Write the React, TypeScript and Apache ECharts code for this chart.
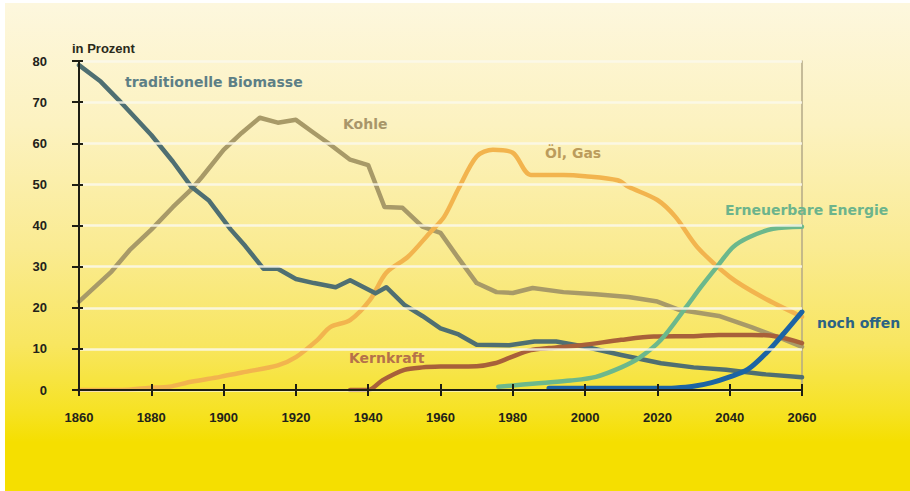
import React, { useEffect, useRef } from "react";
import * as echarts from "echarts";

const xTicks = [1860, 1880, 1900, 1920, 1940, 1960, 1980, 2000, 2020, 2040, 2060];
const yTicks = [0, 10, 20, 30, 40, 50, 60, 70, 80];

const biomasseYears = [1860, 1866, 1871, 1880, 1886, 1891, 1896, 1902, 1906, 1911, 1915, 1920, 1925, 1931, 1935, 1942, 1945, 1950, 1955, 1960, 1965, 1970, 1979, 1986, 1992, 2000, 2010, 2021, 2030, 2039, 2050, 2060];
const biomasseValues = [79, 75, 70.5, 62, 55.5, 49.5, 46, 39, 35, 29.5, 29.5, 27, 26, 25, 26.7, 23.5, 25, 20.7, 18, 15, 13.5, 11, 10.9, 11.8, 11.8, 10.5, 8.5, 6.5, 5.5, 4.9, 3.8, 3.1];

const kohleYears = [1860, 1869, 1874, 1880, 1886, 1891, 1894, 1900, 1905, 1910, 1915, 1920, 1925, 1929, 1935, 1940, 1944.5, 1949.5, 1955, 1960, 1965, 1970, 1975.5, 1980, 1985.5, 1994, 2003, 2012, 2020, 2026, 2037, 2046, 2053, 2060];
const kohleValues = [21.5, 28.8, 34, 39, 44.5, 48.7, 51.8, 58.4, 62.5, 66.2, 65, 65.7, 62.5, 60, 56, 54.7, 44.5, 44.3, 39.7, 38.2, 32, 26, 23.8, 23.6, 24.8, 23.8, 23.3, 22.6, 21.5, 19.5, 18, 15.3, 13, 10.5];

const oelYears = [1860, 1872, 1879, 1885, 1891, 1899, 1906, 1915, 1920, 1926, 1929.5, 1935, 1940.5, 1945, 1951, 1957, 1961, 1965, 1970, 1974.5, 1980, 1985, 1994, 2000, 2009, 2012, 2020, 2025, 2031, 2040, 2049, 2060];
const oelValues = [0, 0, 0.5, 0.8, 2, 3.2, 4.4, 6, 8, 12.2, 15.3, 17, 21.9, 28.5, 32.4, 38.2, 42.1, 49, 56.8, 58.4, 57.7, 52.3, 52.3, 52, 51, 49.4, 46.2, 42.1, 34.8, 27.5, 22.6, 17.8];

const kernYears = [1935, 1940, 1944, 1950, 1955, 1960, 1970, 1975, 1979, 1985, 1990, 1999, 2010, 2019, 2030, 2037, 2046, 2053, 2060];
const kernValues = [0, 0, 2.4, 4.9, 5.5, 5.7, 5.8, 6.5, 7.8, 9.7, 10.2, 10.9, 12.2, 13, 13.1, 13.4, 13.4, 13, 11.4];

const erneuerbarYears = [1976, 1988, 1996, 2003, 2010, 2015, 2021, 2028, 2032, 2036.5, 2041, 2045.5, 2052, 2060];
const erneuerbarValues = [0.8, 1.7, 2.3, 3.2, 5.5, 7.8, 12.2, 20.2, 25, 30, 34.8, 37.2, 39.2, 39.7];

const offenYears = [1990, 2000, 2010, 2020, 2025, 2030, 2035, 2040, 2045, 2050, 2055, 2060];
const offenValues = [0.4, 0.4, 0.4, 0.4, 0.5, 0.9, 1.8, 3.2, 5, 8.9, 13.8, 19];

const pairs = (xs: number[], ys: number[]) => xs.map((x, i) => [x, ys[i]]);

const AXIS_FONT = "Liberation Sans";
const LABEL_FONT = "DejaVu Sans";

export default function App() {
  const ref = useRef<HTMLDivElement>(null);
  useEffect(() => {
    if (!ref.current) return;
    const chart = echarts.init(ref.current, undefined, { renderer: "svg" });
    const xMin = xTicks[0];
    const xMax = xTicks[xTicks.length - 1];
    const yMin = yTicks[0];
    const yMax = yTicks[yTicks.length - 1];
    const line = (name: string, data: number[][], color: string, width: number, smooth: number | boolean, z: number) => ({
      type: "line",
      name,
      data,
      showSymbol: false,
      symbol: "none",
      smooth,
      z,
      lineStyle: { color, width, cap: "round", join: "round" },
    });
    const txt = (text: string, x: number, y: number, fill: string, size: number, family: string) => ({
      type: "text",
      x,
      y,
      z: 50,
      style: { text, fill, font: `bold ${size}px "${family}"`, verticalAlign: "middle", align: "left" },
    });
    chart.setOption({
      animation: false,
      grid: { left: 79, right: 108, top: 61, bottom: 101 },
      graphic: [
        {
          type: "rect",
          z: -100,
          shape: { x: 5, y: 3, width: 905, height: 488 },
          style: {
            fill: new echarts.graphic.LinearGradient(0, 0, 0, 1, [
              { offset: 0, color: "#fdf7de" },
              { offset: 0.25, color: "#fcf2c0" },
              { offset: 0.5, color: "#faeb92" },
              { offset: 0.7, color: "#f8e660" },
              { offset: 0.84, color: "#f6e222" },
              { offset: 0.9, color: "#f5df00" },
              { offset: 1, color: "#f5df00" },
            ]),
          },
        },
        txt("in Prozent", 72, 48, "#2a2a1a", 13, AXIS_FONT),
        txt("traditionelle Biomasse", 125, 82, "#5d7f86", 14, LABEL_FONT),
        txt("Kohle", 343, 124, "#a8966a", 14, LABEL_FONT),
        txt("Öl, Gas", 545, 153, "#bb9c5c", 14, LABEL_FONT),
        txt("Erneuerbare Energie", 725, 210, "#6cb48c", 14, LABEL_FONT),
        txt("noch offen", 817, 323, "#2b6384", 14, LABEL_FONT),
        txt("Kernkraft", 349, 358, "#b5724a", 14, LABEL_FONT),
      ],
      xAxis: [
        {
          type: "value",
          position: "bottom",
          min: xMin,
          max: xMax,
          interval: 20,
          axisLine: { show: true, lineStyle: { color: "#1e1e14", width: 2 } },
          axisTick: { show: true, inside: false, length: 6, lineStyle: { color: "#1e1e14", width: 2 } },
          axisLabel: {
            margin: 21,
            color: "#22221a",
            fontFamily: AXIS_FONT,
            fontWeight: "bold",
            fontSize: 13,
            formatter: (v: number) => String(v),
          },
          splitLine: { show: false },
          z: 10,
        },
        {
          type: "value",
          position: "bottom",
          min: xMin,
          max: xMax,
          interval: 20,
          axisLine: { show: false },
          axisTick: { show: true, inside: true, length: 6, lineStyle: { color: "#1e1e14", width: 2 } },
          axisLabel: { show: false },
          splitLine: { show: false },
          z: 10,
        },
        {
          type: "value",
          position: "top",
          min: xMin,
          max: xMax,
          interval: 20,
          axisLine: { show: true, lineStyle: { color: "#b3a987", width: 2 } },
          axisTick: { show: false },
          axisLabel: { show: false },
          splitLine: { show: false },
        },
      ],
      yAxis: [
        {
          type: "value",
          position: "left",
          min: yMin,
          max: yMax,
          interval: 10,
          axisLine: { show: true, lineStyle: { color: "#1e1e14", width: 2 } },
          axisTick: { show: true, inside: false, length: 7, lineStyle: { color: "#1e1e14", width: 2 } },
          axisLabel: {
            margin: 32,
            align: "right",
            color: "#22221a",
            fontFamily: AXIS_FONT,
            fontWeight: "bold",
            fontSize: 13,
          },
          splitLine: { show: true, lineStyle: { color: "rgba(250,248,235,0.85)", width: 2.5 } },
          z: 10,
        },
        {
          type: "value",
          position: "left",
          min: yMin,
          max: yMax,
          interval: 10,
          axisLine: { show: false },
          axisTick: { show: true, inside: true, length: 4, lineStyle: { color: "#1e1e14", width: 2 } },
          axisLabel: { show: false },
          splitLine: { show: false },
          z: 10,
        },
        {
          type: "value",
          position: "right",
          min: yMin,
          max: yMax,
          interval: 10,
          axisLine: { show: true, lineStyle: { color: "#b3a987", width: 1.5 } },
          axisTick: { show: false },
          axisLabel: { show: false },
          splitLine: { show: false },
        },
      ],
      series: [
        line("Kohle", pairs(kohleYears, kohleValues), "#a89a68", 4.5, false, 3),
        line("Öl, Gas", pairs(oelYears, oelValues), "#f2b44e", 4.5, 0.3, 4),
        line("Biomasse", pairs(biomasseYears, biomasseValues), "#4f6f72", 4.5, false, 5),
        line("Kernkraft", pairs(kernYears, kernValues), "#a8603a", 4.5, 0.3, 6),
        line("Erneuerbare Energie", pairs(erneuerbarYears, erneuerbarValues), "#6cb88c", 4.5, 0.3, 7),
        line("noch offen", pairs(offenYears, offenValues), "#1c64a4", 5, 0.3, 8),
      ],
    });
    return () => chart.dispose();
  }, []);
  return (
    <div
      ref={ref}
      style={{ position: "fixed", left: 0, top: 0, width: 910, height: 491, background: "#ffffff" }}
    />
  );
}
